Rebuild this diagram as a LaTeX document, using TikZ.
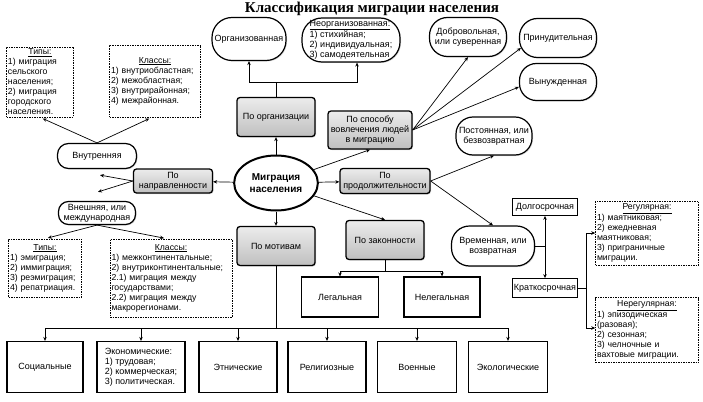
\documentclass[tikz,border=0pt]{standalone}
\usepackage{fontspec}
\setmainfont{Liberation Serif}
\setsansfont{Liberation Sans}
\usetikzlibrary{arrows.meta,positioning,shapes.geometric,shadows}

\newcommand{\notehead}[1]{{\centering\underline{#1}\par}}

\begin{document}
\begin{tikzpicture}[x=1pt,y=-1pt,>={Stealth[length=4pt,width=3.5pt]},
    font=\sffamily\fontsize{9}{10}\selectfont,
    conn/.style={line width=0.7pt},
    link/.style={conn,->},
    crit/.style={draw,line width=1.3pt,rounded corners=3pt,align=center,
        top color=gray!15,bottom color=gray!50,inner sep=1pt,
        drop shadow={opacity=0.3,shadow xshift=1pt,shadow yshift=-1pt}},
    pill/.style={draw,line width=1.2pt,fill=white,rounded corners=#1,align=center,inner sep=1pt,
        drop shadow={opacity=0.3,shadow xshift=1pt,shadow yshift=-1pt}},
    pill/.default=11pt,
    box/.style={draw,line width=1.2pt,fill=white,align=center},
    thinbox/.style={draw,line width=0.8pt,fill=white,align=center,inner sep=1pt},
    note/.style={draw,dashed,dash pattern=on 1.5pt off 1pt,line width=0.6pt,
        font=\sffamily\fontsize{8.7}{10}\selectfont,
        align=left,text width=#1,inner xsep=1.5pt,inner ysep=1pt}]

    \useasboundingbox (0,0) rectangle (703,401);

    % Title
    \node [font=\rmfamily\bfseries\fontsize{15}{16}\selectfont] (title) at (372,9) {Классификация миграции населения};

    % Centre
    \node [draw,ellipse,line width=2pt,fill=white,minimum width=78,minimum height=55,align=center,
        font=\sffamily\bfseries\fontsize{10}{12}\selectfont] (mig) at (276,183) {Миграция\\населения};

    % Criteria
    \node [crit,minimum width=78,minimum height=39] (porg) at (276,117) {По организации};
    \node [crit,minimum width=84,minimum height=38] (pinv) at (370,130) {По способу\\вовлечения людей\\в миграцию};
    \node [crit,minimum width=79,minimum height=24] (pdir) at (173,181) {По\\направленности};
    \node [crit,minimum width=90,minimum height=25] (pdur) at (385,181) {По\\продолжительности};
    \node [crit,minimum width=78,minimum height=39] (pmot) at (276,246) {По мотивам};
    \node [crit,minimum width=78,minimum height=39] (plaw) at (385,240) {По законности};

    % By organisation
    \node [pill=20pt,minimum width=74,minimum height=43] (orgd) at (249,39) {Организованная};
    \node [pill=20pt,minimum width=98,minimum height=44,align=left] (unorg) at (351,40)
        {\underline{Неорганизованная:}\\1) стихийная;\\2) индивидуальная;\\3) самодеятельная};

    % By way of involvement
    \node [pill=18pt,minimum width=77,minimum height=39] (vol) at (468,37) {Добровольная,\\или суверенная};
    \node [pill=18pt,minimum width=77,minimum height=39] (forc) at (558,38) {Принудительная};
    \node [pill=17pt,minimum width=77,minimum height=37] (oblig) at (558,82) {Вынужденная};

    % By duration
    \node [pill=17pt,minimum width=76,minimum height=38] (perm) at (494,136) {Постоянная, или\\безвозвратная};
    \node [pill=18pt,minimum width=83,minimum height=40] (temp) at (493,246) {Временная, или\\возвратная};
    \node [thinbox,minimum width=65,minimum height=17] (longt) at (545,207) {Долгосрочная};
    \node [thinbox,minimum width=65,minimum height=19] (short) at (545,288) {Краткосрочная};
    \node [note=100,minimum height=64] (regl) at (647,233)
        {\notehead{Регулярная:}1) маятниковая;\\2) ежедневная\\маятниковая;\\3) приграничные\\миграции.};
    \node [note=100,minimum height=65] (irreg) at (647,330)
        {\notehead{Нерегулярная:}1) эпизодическая\\(разовая);\\2) сезонная;\\3) челночные и\\вахтовые миграции.};

    % By direction
    \node [pill=11pt,minimum width=79,minimum height=25] (inner) at (97,156) {Внутренняя};
    \node [pill=10pt,minimum width=77,minimum height=23] (outer) at (97,213) {Внешняя, или\\международная};
    \node [note=64,minimum height=70] (inty) at (40,82)
        {\notehead{Типы:}1) миграция\\сельского\\населения;\\2) миграция\\городского\\населения.};
    \node [note=88,minimum height=72] (incl) at (155,81)
        {\notehead{Классы:}1) внутриобластная;\\2) межобластная;\\3) внутрирайонная;\\4) межрайонная.};
    \node [note=70,minimum height=58] (outy) at (45,268)
        {\notehead{Типы:}1) эмиграция;\\2) иммиграция;\\3) реэмиграция;\\4) репатриация.};
    \node [note=119,minimum height=78] (outcl) at (171,278)
        {\notehead{Классы:}1) межконтинентальные;\\2) внутриконтинентальные;\\2.1) миграция между\\государствами;\\2.2) миграция между\\макрорегионами.};

    % By legality
    \node [box,minimum width=77,minimum height=40] (legal) at (340,297) {Легальная};
    \node [box,minimum width=76,minimum height=40] (illeg) at (442,297) {Нелегальная};

    % By motives
    \node [box,minimum width=76,minimum height=51] (soc) at (45,367) {Социальные};
    \node [box,minimum width=88,minimum height=51,align=left] (econ) at (141,367)
        {Экономические:\\1) трудовая;\\2) коммерческая;\\3) политическая.};
    \node [box,minimum width=78,minimum height=51] (eth) at (238,367) {Этнические};
    \node [box,minimum width=78,minimum height=51] (relig) at (327,367) {Религиозные};
    \node [box,minimum width=79,minimum height=51] (mil) at (417,367) {Военные};
    \node [box,minimum width=79,minimum height=51] (ecol) at (508,367) {Экологические};

    % Centre to criteria
    \draw [link] (mig) -- (porg);
    \draw [link] (mig) -- (pinv.south);
    \draw [link] (mig) -- (pdir);
    \draw [link] (mig) -- (pdur);
    \draw [link] (mig) -- (pmot);
    \draw [link] (mig) -- (plaw.north);

    % Organisation fork
    \coordinate (orgfork) at (276,82);
    \draw [conn] (porg) -- (orgfork);
    \draw [link] (orgfork) -| (orgd);
    \draw [link] (orgfork) -| ([xshift=6pt]unorg.south);

    % Involvement fan
    \draw [link] (pinv.east) -- (vol.south);
    \draw [link] (pinv.east) -- ([xshift=2pt,yshift=-10pt]forc.west);
    \draw [link] (pinv.east) -- ([yshift=-5pt]oblig.west);

    % Duration
    \draw [link] (pdur.east) -- (perm.south);
    \draw [link] (pdur.east) -- (temp.north);
    \coordinate (tempfork) at (545,246);
    \draw [conn] (temp.east) -- (tempfork);
    \draw [conn,<->] (longt) -- (short);
    \coordinate (shortfork) at (586,288);
    \draw [conn] (short) -- (shortfork);
    \draw [link] (shortfork) |- (regl.west);
    \draw [link] (shortfork) |- ([yshift=2pt]irreg.west);

    % Direction
    \draw [link] (pdir.west) -- ([xshift=3pt,yshift=-6pt]inner.south);
    \draw [link] (pdir.west) -- ([xshift=1pt,yshift=9pt]outer.north);
    \draw [link,shorten >=3pt] (inner.north) -- (inty.south);
    \draw [link,shorten >=3pt] (inner.north) -- ([xshift=-3pt]incl.south);
    \draw [link,shorten >=3pt] (outer.south) -- (outy.north);
    \draw [link,shorten >=3pt] (outer.south) -- ([xshift=-4pt]outcl.north);

    % Legality fork
    \coordinate (lawfork) at (385,271);
    \draw [conn] (plaw) -- (lawfork);
    \draw [link] (lawfork) -| (legal);
    \draw [link] (lawfork) -| (illeg);

    % Motives bus
    \coordinate (motfork) at (276,328);
    \draw [conn] (pmot) -- (motfork);
    \foreach \m in {soc,econ,eth,relig,mil,ecol}
        \draw [link] (motfork) -| (\m);

\end{tikzpicture}
\end{document}
